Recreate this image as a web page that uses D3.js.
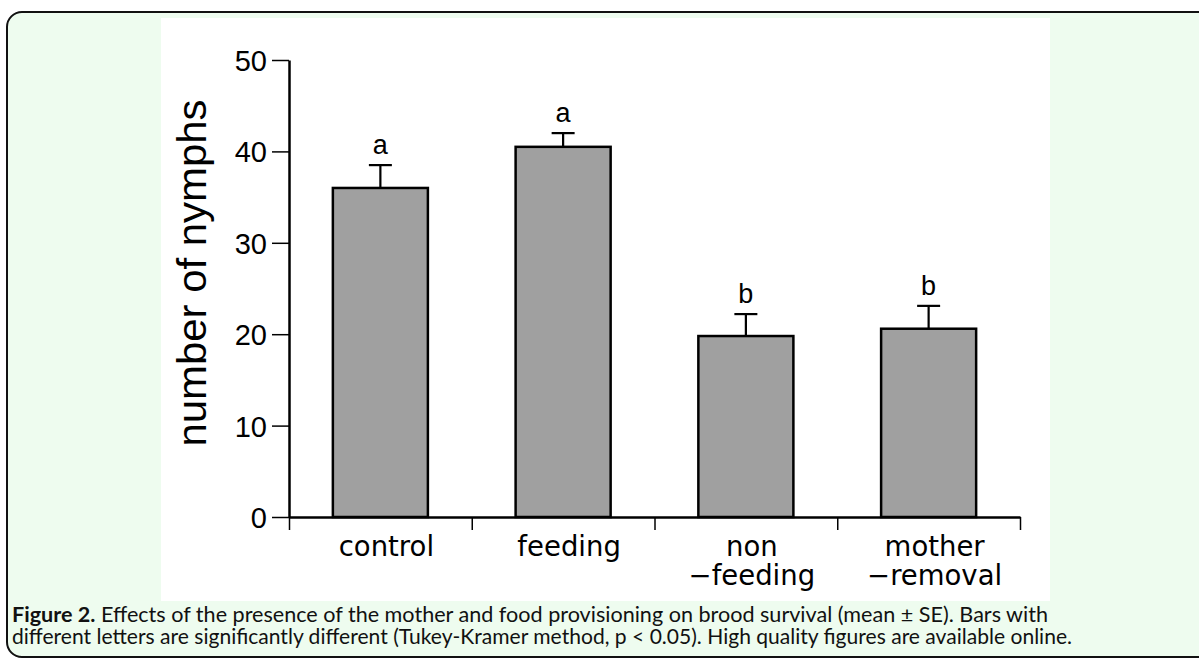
<!DOCTYPE html>
<html>
<head>
<meta charset="utf-8">
<script src="https://cdn.jsdelivr.net/npm/d3@7"></script>
<style>
    body { margin: 0; background: #fff; }
    svg { display: block; }
</style>
</head>
<body>
<svg id="chart" width="1199" height="664"></svg>
<script>
// data
const groups = ['control', 'feeding', 'non-feeding', 'mother-removal'];
const groupLabels = [['control'], ['feeding'], ['non', '\u2212feeding'], ['mother', '\u2212removal']];
const means = [36.0, 40.5, 19.8, 20.6];
const errors = [2.5, 1.5, 2.4, 2.5];
const letters = ['a', 'a', 'b', 'b'];
const yTicks = [0, 10, 20, 30, 40, 50];
const yTitle = 'number of nymphs';
const captionBold = 'Figure 2.';
const captionLine1 = ' Effects of the presence of the mother and food provisioning on brood survival (mean \u00b1 SE). Bars with';
const captionLine2 = 'different letters are significantly different (Tukey-Kramer method, p < 0.05). High quality figures are available online.';

const svg = d3.select('#chart');

// page frame
svg.append('rect')
    .attr('x', 7).attr('y', 12)
    .attr('width', 1210).attr('height', 645)
    .attr('rx', 15).attr('ry', 15)
    .attr('fill', '#eefcef')
    .attr('stroke', '#111')
    .attr('stroke-width', 2);

svg.append('rect')
    .attr('x', 161).attr('y', 18)
    .attr('width', 889).attr('height', 583)
    .attr('fill', '#fff');

const plot = { left: 289, right: 1020, top: 60, bottom: 517 };

const y = d3.scaleLinear().domain([0, 50]).range([plot.bottom, plot.top]);
const x = d3.scaleBand()
    .domain(groups)
    .range([plot.left, plot.right])
    .paddingInner(0.48)
    .paddingOuter(0.24);
const xEdge = d3.scaleLinear().domain([0, groups.length]).range([plot.left, plot.right]);

const g = svg.append('g');

// bars
g.selectAll('.bar')
    .data(groups)
    .enter()
    .append('rect')
    .attr('class', 'bar')
    .attr('x', (d) => x(d))
    .attr('y', (d, i) => y(means[i]))
    .attr('width', x.bandwidth())
    .attr('height', (d, i) => y(0) - y(means[i]))
    .attr('fill', '#a0a0a0')
    .attr('stroke', '#000')
    .attr('stroke-width', 2.5);

// error bars (upper half only)
const err = g.selectAll('.err').data(groups).enter().append('g').attr('class', 'err');
err.append('line')
    .attr('x1', (d) => x(d) + x.bandwidth() / 2)
    .attr('x2', (d) => x(d) + x.bandwidth() / 2)
    .attr('y1', (d, i) => y(means[i]))
    .attr('y2', (d, i) => y(means[i] + errors[i]))
    .attr('stroke', '#000').attr('stroke-width', 2.2);
err.append('line')
    .attr('x1', (d) => x(d) + x.bandwidth() / 2 - 11.5)
    .attr('x2', (d) => x(d) + x.bandwidth() / 2 + 11.5)
    .attr('y1', (d, i) => y(means[i] + errors[i]))
    .attr('y2', (d, i) => y(means[i] + errors[i]))
    .attr('stroke', '#000').attr('stroke-width', 2.2);

// significance letters
g.selectAll('.letter')
    .data(groups)
    .enter()
    .append('text')
    .attr('class', 'letter')
    .attr('x', (d) => x(d) + x.bandwidth() / 2)
    .attr('y', (d, i) => y(means[i] + errors[i]) - 11)
    .attr('text-anchor', 'middle')
    .attr('font-family', 'Liberation Sans, Arial, sans-serif')
    .attr('font-size', 27)
    .text((d, i) => letters[i]);

// y axis
const axisY = d3.axisLeft(y)
    .tickValues(yTicks)
    .tickSize(17)
    .tickSizeOuter(0)
    .tickPadding(5);

const gy = g.append('g')
    .attr('transform', `translate(${plot.left},0)`)
    .call(axisY);
gy.select('.domain').attr('stroke', '#000').attr('stroke-width', 2.5);
gy.selectAll('.tick line').attr('stroke', '#000').attr('stroke-width', 1.5);
gy.selectAll('.tick text')
    .attr('font-family', 'Liberation Sans, Arial, sans-serif')
    .attr('font-size', 29)
    .attr('fill', '#000')
    .attr('dy', '0.36em');

// x axis: ticks sit on group boundaries
const axisX = d3.axisBottom(xEdge)
    .tickValues(d3.range(groups.length + 1))
    .tickSize(13)
    .tickSizeOuter(0)
    .tickFormat('');

const gx = g.append('g')
    .attr('transform', `translate(0,${plot.bottom})`)
    .call(axisX);
gx.select('.domain').attr('stroke', '#000').attr('stroke-width', 2.5);
gx.selectAll('.tick line').attr('stroke', '#000').attr('stroke-width', 1.5);

// category labels
const cat = g.selectAll('.cat')
    .data(groups)
    .enter()
    .append('text')
    .attr('class', 'cat')
    .attr('text-anchor', 'middle')
    .attr('font-family', 'DejaVu Sans, sans-serif')
    .attr('font-size', 27.5)
    .attr('fill', '#000');

cat.selectAll('tspan')
    .data((d, i) => groupLabels[i].map((t) => ({ t, d })))
    .enter()
    .append('tspan')
    .attr('x', (o) => x(o.d) + x.bandwidth() / 2 + 6)
    .attr('y', (o, j) => 556 + j * 29)
    .text((o) => o.t);

// y title
svg.append('text')
    .attr('transform', 'translate(206,273) rotate(-90)')
    .attr('text-anchor', 'middle')
    .attr('font-family', 'Liberation Sans, Arial, sans-serif')
    .attr('font-size', 40)
    .attr('textLength', 347)
    .attr('lengthAdjust', 'spacingAndGlyphs')
    .text(yTitle);

// caption
const cap1 = svg.append('text')
    .attr('x', 12).attr('y', 622)
    .attr('font-family', 'Lato, sans-serif')
    .attr('font-size', 20.5)
    .attr('fill', '#111')
    .attr('textLength', 1036)
    .attr('lengthAdjust', 'spacingAndGlyphs');
cap1.append('tspan').attr('font-weight', 'bold').text(captionBold);
cap1.append('tspan').text(captionLine1);

svg.append('text')
    .attr('x', 12).attr('y', 644)
    .attr('font-family', 'Lato, sans-serif')
    .attr('font-size', 20.5)
    .attr('fill', '#111')
    .attr('textLength', 1060)
    .attr('lengthAdjust', 'spacingAndGlyphs')
    .text(captionLine2);
</script>
</body>
</html>
